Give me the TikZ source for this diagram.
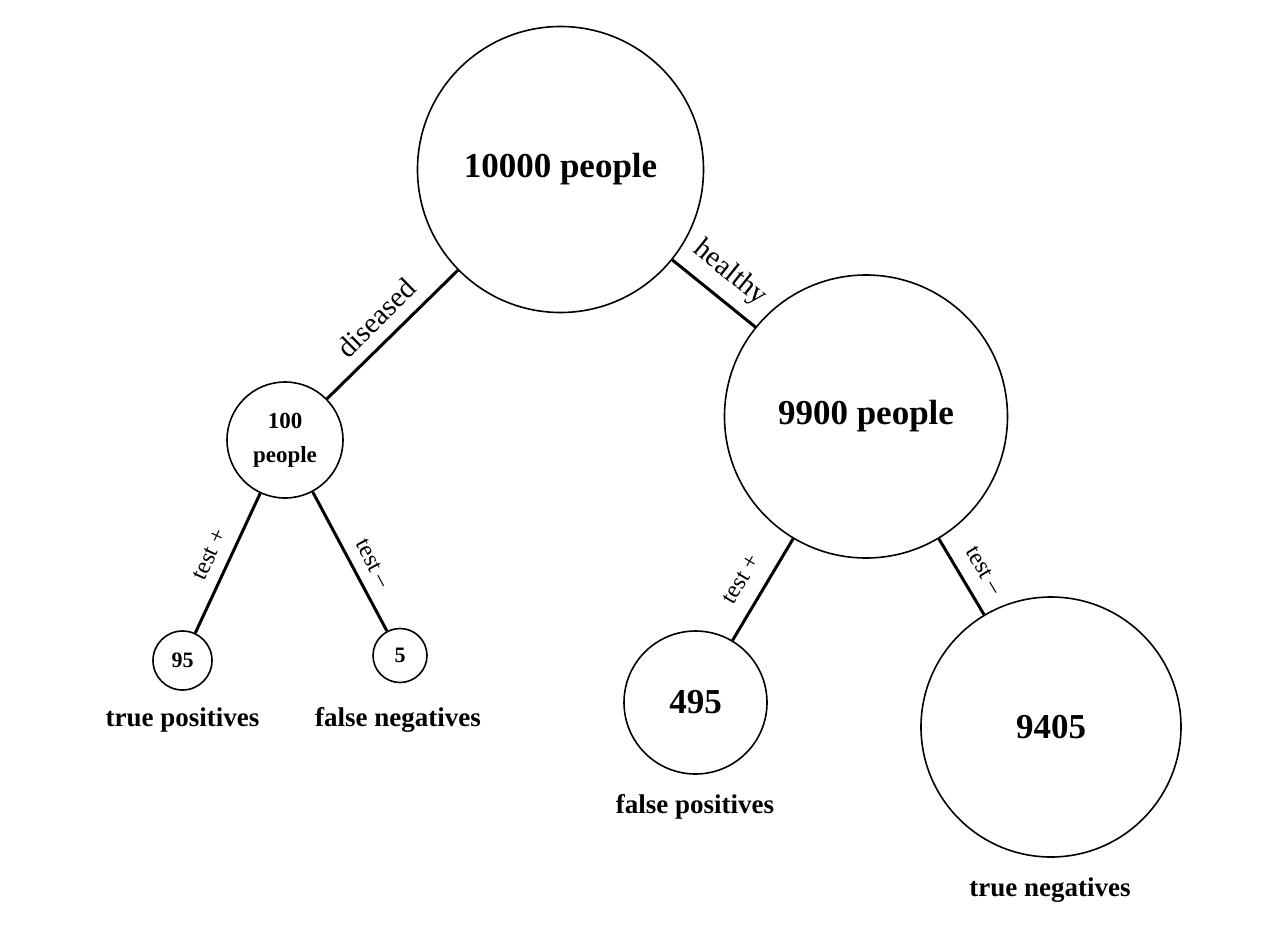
\documentclass[tikz,border=0pt]{standalone}
\usepackage{fontspec}
\setmainfont{Liberation Serif}
\begin{document}
\begin{tikzpicture}[x=1pt,y=-1pt,
  pop/.style={circle, draw, line width=1.6pt, inner sep=0pt, font=\bfseries},
  conn/.style={line width=3pt},
  elab/.style={pos=0.5, sloped, above=#1},
  elab/.default=8pt,
  big/.style={font=\bfseries\fontsize{35}{42}\selectfont},
  leaf/.style={font=\bfseries\fontsize{27}{32}\selectfont},
  edgebig/.style={font=\fontsize{29}{34}\selectfont},
  edgesmall/.style={font=\fontsize{24}{28}\selectfont}]
\useasboundingbox (0,0) rectangle (1286,932);
\node[pop, minimum size=286pt, big] (all) at (560.5,169.5) {10000 people};
\node[pop, minimum size=116pt, align=center, font=\bfseries\fontsize{23}{34}\selectfont] (dis) at (285,440) {100\\people};
\node[pop, minimum size=283pt, big] (hea) at (866,416.5) {9900 people};
\node[pop, minimum size=59pt, font=\bfseries\fontsize{22}{26}\selectfont] (tp) at (182.5,660.5) {95};
\node[pop, minimum size=54pt, font=\bfseries\fontsize{22}{26}\selectfont] (fn) at (400,655.5) {5};
\node[pop, minimum size=143pt, big] (fp) at (695.5,702.5) {495};
\node[pop, minimum size=260pt, big] (tn) at (1051,727) {9405};
\node[leaf] (tpl) at (182.5,720) {true positives};
\node[leaf] (fnl) at (398,720) {false negatives};
\node[leaf] (fpl) at (695,807) {false positives};
\node[leaf] (tnl) at (1050,890) {true negatives};
\draw[conn] (all) -- (dis) node[elab, edgebig] {diseased};
\draw[conn] (all) -- (hea) node[elab, edgebig] {healthy};
\draw[conn] (dis) -- (tp) node[elab, edgesmall] {test +};
\draw[conn] (dis) -- (fn) node[elab, pos=0.58, edgesmall] {test --};
\draw[conn] (hea) -- (fp) node[elab=12pt, pos=0.52, edgesmall] {test +};
\draw[conn] (hea) -- (tn) node[elab=11pt, pos=0.57, edgesmall] {test --};
\end{tikzpicture}
\end{document}
